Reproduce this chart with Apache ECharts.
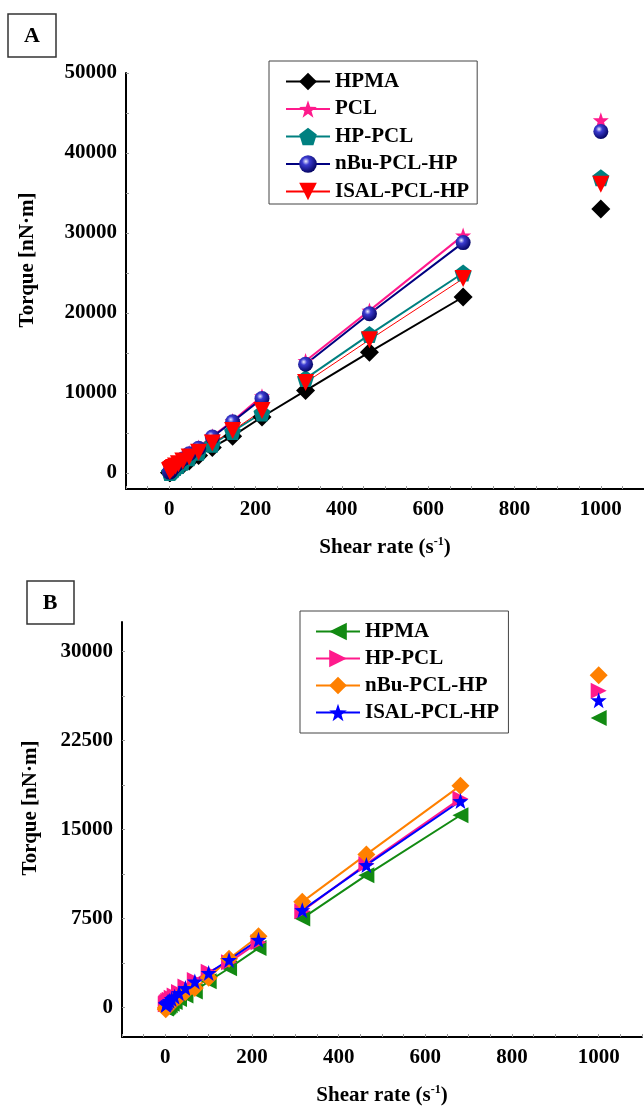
<!DOCTYPE html>
<html>
<head>
<meta charset="utf-8">
<script src="https://cdn.jsdelivr.net/npm/echarts@6/dist/echarts.min.js"></script>
<style>
  html, body { margin: 0; padding: 0; background: #fff; }
  #chart { width: 644px; height: 1108px; }
</style>
</head>
<body>
<div id="chart"></div>
<script>
// shear rates (s^-1), same for every series
const shearRate = [1, 1.47, 2.15, 3.16, 4.64, 6.81, 10, 14.7, 21.5, 31.6, 46.4, 68.1, 100, 147, 215, 316, 464, 681, 1000];

// panel A torque values [nN·m]
const hpmaA   = [40, 55, 75, 110, 160, 230, 330, 480, 700, 1030, 1500, 2200, 3200, 4600, 7000, 10300, 15100, 22000, 33000];
const pclA    = [120, 160, 210, 280, 380, 520, 720, 980, 1300, 1800, 2500, 3200, 4600, 6500, 9600, 14000, 20300, 29700, 44100];
const hpPclA  = [60, 80, 110, 160, 230, 330, 480, 680, 950, 1350, 1900, 2600, 3600, 5200, 7500, 11800, 17300, 25000, 36900];
const nbuA    = [110, 150, 200, 270, 370, 500, 690, 950, 1260, 1750, 2400, 3100, 4500, 6400, 9300, 13600, 19900, 28800, 42700];
const isalA   = [250, 280, 320, 380, 450, 560, 700, 880, 1150, 1500, 2000, 2600, 3750, 5300, 7800, 11300, 16650, 24300, 36100];

// panel B torque values [nN·m]
const hpmaB   = [-100, -80, -50, 0, 40, 100, 180, 300, 450, 700, 1000, 1340, 2200, 3300, 5000, 7500, 11150, 16200, 24400];
const hpPclB  = [260, 290, 330, 380, 450, 550, 650, 800, 1000, 1300, 1750, 2300, 3000, 3800, 5500, 8100, 12100, 17600, 26700];
const nbuB    = [-150, -50, -20, 20, 80, 150, 250, 400, 600, 900, 1300, 1630, 2500, 4100, 6000, 8900, 12900, 18700, 28000];
const isalB   = [230, 250, 280, 320, 380, 450, 550, 700, 900, 1200, 1630, 2180, 2900, 4000, 5700, 8200, 12000, 17400, 25900];

// tick labels
const xLabels   = [0, 200, 400, 600, 800, 1000];
const xTicks    = [-100, -50, 0, 50, 100, 150, 200, 250, 300, 350, 400, 450, 500, 550, 600, 650, 700, 750, 800, 850, 900, 950, 1000, 1050, 1100];
const yLabelsA  = [0, 10000, 20000, 30000, 40000, 50000];
const yTicksA   = [0, 5000, 10000, 15000, 20000, 25000, 30000, 35000, 40000, 45000, 50000];
const yLabelsB  = [0, 7500, 15000, 22500, 30000];
const yTicksB   = [0, 3750, 7500, 11250, 15000, 18750, 22500, 26250, 30000];

// line breaks: segment not drawn after these indexes
function pairs(ys, breaks) {
  const out = [];
  ys.forEach((y, i) => {
    out.push([shearRate[i], y]);
    if (breaks.indexOf(i) >= 0) out.push([shearRate[i], '-']);
  });
  return out;
}

const font = 'Liberation Serif';
const starPath = 'path://M0,-10 L2.35,-3.24 L9.51,-3.09 L3.80,1.24 L5.88,8.09 L0,4 L-5.88,8.09 L-3.80,1.24 L-9.51,-3.09 L-2.35,-3.24 Z';
const pentaPath = 'path://M0,-10 L9.51,-3.09 L5.88,8.09 L-5.88,8.09 L-9.51,-3.09 Z';
const ball = {
  type: 'radial', x: 0.38, y: 0.35, r: 0.7,
  colorStops: [
    { offset: 0, color: '#eeeeff' },
    { offset: 0.3, color: '#3b3bd0' },
    { offset: 1, color: '#00005a' }
  ]
};

function xAxisOf(gridIndex) {
  return {
    type: 'value', gridIndex: gridIndex, min: -100, max: 1100,
    name: 'Shear rate (s{sup|-1})', nameLocation: 'middle', nameGap: 47,
    nameTextStyle: {
      fontFamily: font, fontWeight: 'bold', fontSize: 21, color: '#000',
      rich: { sup: { fontFamily: font, fontWeight: 'bold', fontSize: 12, color: '#000', padding: [0, 0, 12, 0] } }
    },
    axisLine: { show: true, onZero: false, lineStyle: { color: '#000', width: 2 } },
    axisTick: { show: true, inside: true, length: 3, customValues: xTicks, lineStyle: { color: '#999' } },
    axisLabel: {
      customValues: xLabels, margin: 10, formatter: v => String(v),
      fontFamily: font, fontWeight: 'bold', fontSize: 21, color: '#000'
    },
    splitLine: { show: false }
  };
}

function yAxisOf(gridIndex, min, max, labels, ticks) {
  return {
    type: 'value', gridIndex: gridIndex, min: min, max: max,
    axisLine: { show: true, onZero: false, lineStyle: { color: '#000', width: 2 } },
    axisTick: { show: true, inside: true, length: 3, customValues: ticks, lineStyle: { color: '#999' } },
    axisLabel: {
      customValues: labels, margin: 9, formatter: v => String(v),
      fontFamily: font, fontWeight: 'bold', fontSize: 21, color: '#000'
    },
    splitLine: { show: false }
  };
}

function lineSeries(name, axis, data, color, symbol, size, rotate, width, fill) {
  return {
    name: name, type: 'line', xAxisIndex: axis, yAxisIndex: axis,
    data: data, connectNulls: false,
    symbol: symbol, symbolSize: size, symbolRotate: rotate,
    lineStyle: { color: color, width: width },
    itemStyle: { color: fill || color, opacity: 1 },
    emphasis: { disabled: true }
  };
}

const legendText = { fontFamily: font, fontWeight: 'bold', fontSize: 21, color: '#000' };

const chart = echarts.init(document.getElementById('chart'), null, { renderer: 'canvas' });
chart.setOption({
  animation: false,
  backgroundColor: '#fff',
  grid: [
    { left: 126, top: 73, width: 520, height: 416 },
    { left: 122, top: 622, width: 520, height: 415 }
  ],
  xAxis: [xAxisOf(0), xAxisOf(1)],
  yAxis: [
    yAxisOf(0, -2000, 50000, yLabelsA, yTicksA),
    yAxisOf(1, -2500, 32500, yLabelsB, yTicksB)
  ],
  legend: [
    {
      data: ['HPMA', 'PCL', 'HP-PCL', 'nBu-PCL-HP', 'ISAL-PCL-HP'],
      orient: 'vertical', left: 269, top: 61,
      padding: [10, 8, 2, 16], itemGap: 6.5, itemWidth: 44, itemHeight: 22,
      borderColor: '#444', borderWidth: 1, borderRadius: 0,
      textStyle: legendText, selectedMode: false
    },
    {
      data: ['HPMA ', 'HP-PCL ', 'nBu-PCL-HP ', 'ISAL-PCL-HP '],
      orient: 'vertical', left: 300, top: 611,
      padding: [10, 4, 10, 15], itemGap: 6, itemWidth: 44, itemHeight: 22,
      borderColor: '#444', borderWidth: 1, borderRadius: 0,
      textStyle: legendText, selectedMode: false
    }
  ],
  series: [
    lineSeries('HPMA', 0, pairs(hpmaA, [17]), '#000', 'diamond', 19, 0, 2),
    lineSeries('PCL', 0, pairs(pclA, [14, 17]), '#ff1a8c', starPath, 16, 0, 2),
    lineSeries('HP-PCL', 0, pairs(hpPclA, [14, 17]), '#008080', pentaPath, 17, 0, 2),
    lineSeries('nBu-PCL-HP', 0, pairs(nbuA, [14, 17]), '#000080', 'circle', 15, 0, 2, ball),
    lineSeries('ISAL-PCL-HP', 0, pairs(isalA, [14, 17]), '#ff0000', 'triangle', 17, 180, 1),

    lineSeries('HPMA ', 1, pairs(hpmaB, [14, 17]), '#128a12', 'triangle', 16, 90, 2),
    lineSeries('HP-PCL ', 1, pairs(hpPclB, [14, 17]), '#ff1a8c', 'triangle', 16, -90, 2),
    lineSeries('nBu-PCL-HP ', 1, pairs(nbuB, [14, 17]), '#ff8000', 'diamond', 18, 0, 2),
    lineSeries('ISAL-PCL-HP ', 1, pairs(isalB, [14, 17]), '#0000ff', starPath, 16, 0, 2)
  ],
  graphic: [
    { type: 'rect', shape: { x: 8, y: 14, width: 48, height: 43 }, style: { fill: '#fff', stroke: '#333', lineWidth: 1.5 } },
    { type: 'text', x: 32, y: 36, style: { text: 'A', fontFamily: font, fontWeight: 'bold', fontSize: 22, fill: '#000', align: 'center', verticalAlign: 'middle' } },
    { type: 'rect', shape: { x: 27, y: 581, width: 47, height: 43 }, style: { fill: '#fff', stroke: '#333', lineWidth: 1.5 } },
    { type: 'text', x: 50, y: 603, style: { text: 'B', fontFamily: font, fontWeight: 'bold', fontSize: 22, fill: '#000', align: 'center', verticalAlign: 'middle' } },
    { type: 'text', x: 28, y: 260, rotation: Math.PI / 2, style: { text: 'Torque [nN·m]', fontFamily: font, fontWeight: 'bold', fontSize: 21, fill: '#000', align: 'center', verticalAlign: 'middle' } },
    { type: 'text', x: 31, y: 808, rotation: Math.PI / 2, style: { text: 'Torque [nN·m]', fontFamily: font, fontWeight: 'bold', fontSize: 21, fill: '#000', align: 'center', verticalAlign: 'middle' } }
  ]
});
</script>
</body>
</html>
